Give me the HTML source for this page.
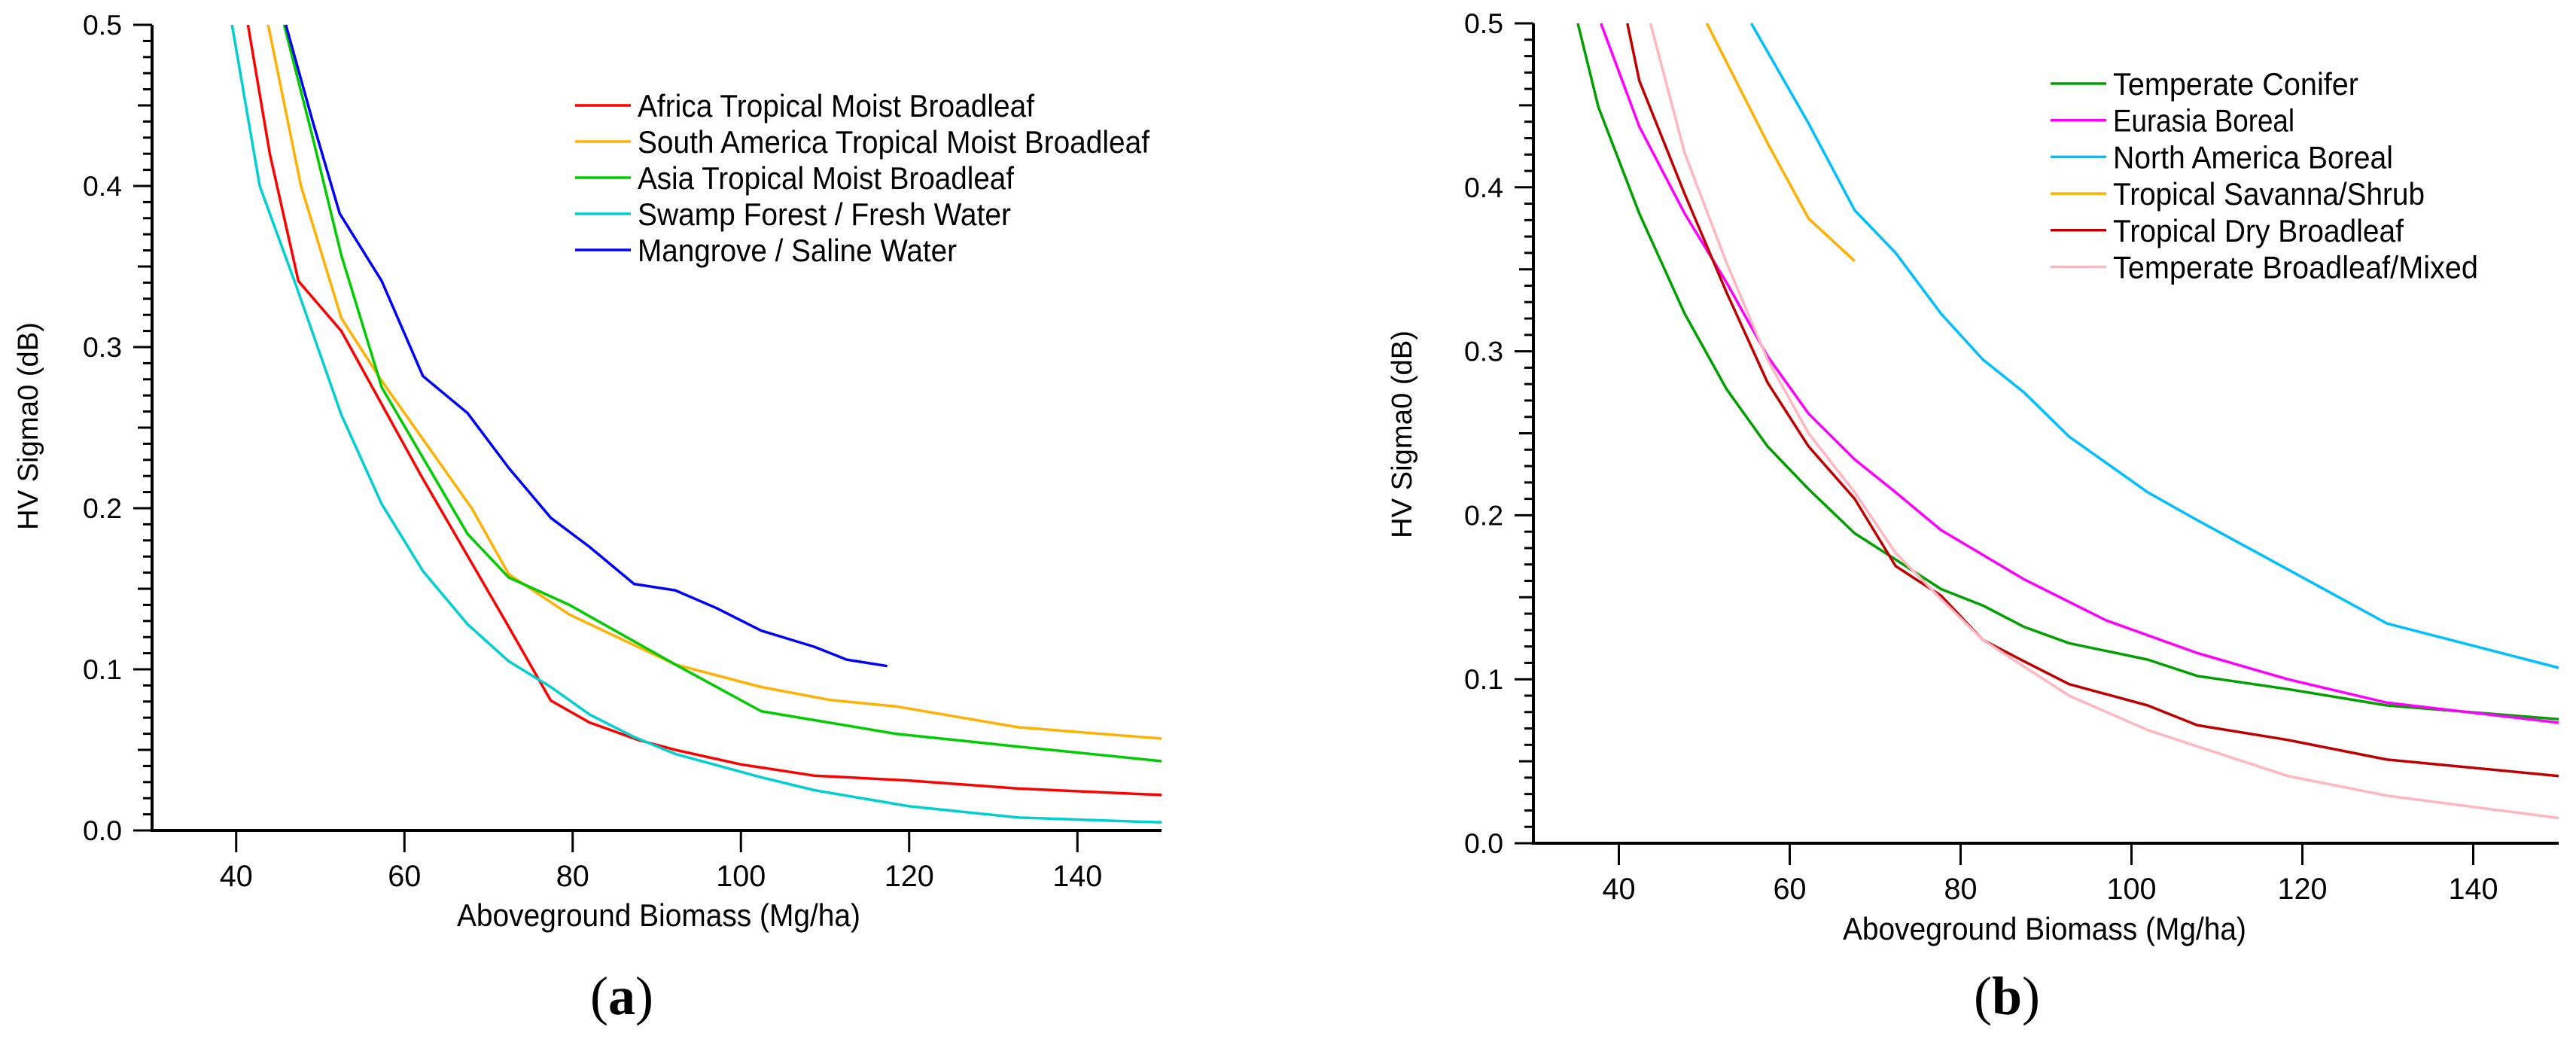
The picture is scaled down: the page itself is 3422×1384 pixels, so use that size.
<!DOCTYPE html>
<html><head><meta charset="utf-8"><style>
html,body{margin:0;padding:0;background:#fff;}
svg{display:block;font-family:"Liberation Sans",sans-serif;}
</style></head><body>
<svg id="fig" width="3422" height="1384" viewBox="0 0 3422 1384" xmlns="http://www.w3.org/2000/svg"></svg>
<script>
// Panel (a) data
const aNames = ["Africa Tropical Moist Broadleaf","South America Tropical Moist Broadleaf","Asia Tropical Moist Broadleaf","Swamp Forest / Fresh Water","Mangrove / Saline Water"];
const aColors = ["#ff0000","#ffb000","#00cc00","#00d0d0","#0000ff"];
const aAfricaX = [41.4,44,47.4,52.5,62,72,77.4,82,87.9,92.2,100,108.7,120,133,150];
const aAfricaY = [0.5,0.42,0.341,0.31,0.22,0.13,0.0806,0.067,0.056,0.05,0.041,0.034,0.031,0.026,0.022];
const aSouthX = [43.8,47.7,52.5,57.3,68,72.4,79.6,92.2,102.4,110.6,118.4,133,150];
const aSouthY = [0.5,0.4,0.318,0.279,0.2,0.159,0.134,0.103,0.089,0.081,0.077,0.064,0.057];
const aAsiaX = [45.7,49.1,52.5,57.3,67.5,72.4,79.6,92.2,102.4,118.4,133,150];
const aAsiaY = [0.5,0.43,0.357,0.275,0.184,0.157,0.14,0.103,0.074,0.06,0.052,0.043];
const aSwampX = [39.5,42.8,47.2,52.5,57.3,62.2,67.5,72.4,77.4,82,87.3,92.2,102.4,108.7,120,133,150];
const aSwampY = [0.5,0.4,0.337,0.258,0.2025,0.161,0.128,0.105,0.089,0.072,0.058,0.0475,0.033,0.025,0.015,0.008,0.005];
const aMangX = [45.9,49.1,52.3,57.3,62.2,67.5,72.4,77.4,82,87.3,92.2,97.1,102.4,108.7,112.6,117.4];
const aMangY = [0.5,0.44,0.383,0.341,0.282,0.259,0.225,0.194,0.176,0.153,0.149,0.138,0.124,0.114,0.106,0.102];
// Panel (b) data
const bNames = ["Temperate Conifer","Eurasia Boreal","North America Boreal","Tropical Savanna/Shrub","Tropical Dry Broadleaf","Temperate Broadleaf/Mixed"];
const bColors = ["#00a000","#ff00ff","#00bfff","#ffb000","#c00000","#ffb6c1"];
const bConX = [35.2,37.6,42.4,47.7,52.6,57.4,62.2,67.6,72.4,77.7,82.6,87.4,92.7,101.9,107.7,118.3,129.9,150];
const bConY = [0.5,0.449,0.384,0.323,0.277,0.242,0.216,0.189,0.173,0.155,0.145,0.132,0.122,0.112,0.102,0.094,0.084,0.0756];
const bEurX = [37.9,42.4,47.7,52.6,57.4,62.2,67.6,72.4,77.7,87.4,97,107.7,118.3,129.9,150];
const bEurY = [0.5,0.437,0.384,0.342,0.297,0.262,0.234,0.214,0.191,0.161,0.136,0.116,0.1,0.0857,0.0735];
const bNAX = [55.5,62.2,67.6,72.4,77.7,82.6,87.4,92.7,101.9,107.7,118.3,129.9,150];
const bNAY = [0.5,0.439,0.386,0.36,0.323,0.295,0.275,0.248,0.214,0.197,0.167,0.134,0.107];
const bSavX = [50.3,57.4,62.2,67.6];
const bSavY = [0.5,0.427,0.381,0.355];
const bDryX = [41,42.4,47.7,52.6,57.4,62.2,67.6,72.4,77.7,82.6,87.4,92.7,101.9,107.7,118.3,129.9,150];
const bDryY = [0.5,0.465,0.396,0.336,0.281,0.242,0.21,0.169,0.151,0.124,0.111,0.097,0.084,0.072,0.063,0.051,0.041];
const bPinkX = [43.7,47.7,52.6,57.4,62.2,67.6,72.4,77.7,82.6,92.7,101.9,118.3,129.9,150];
const bPinkY = [0.5,0.421,0.354,0.295,0.25,0.214,0.177,0.149,0.124,0.09,0.069,0.041,0.029,0.0154];
const xTicks = [40,60,80,100,120,140];
const yTicks = [0,0.1,0.2,0.3,0.4,0.5];
const yTickLabels = ["0.0","0.1","0.2","0.3","0.4","0.5"];
const aLegendWidths = [527,680,500,496,424];
const bLegendWidths = [326,241,372,414,386,485];

const NS = "http://www.w3.org/2000/svg";
const svg = document.getElementById("fig");
function mk(tag, attrs, parent){const e=document.createElementNS(NS,tag);for(const k in attrs)e.setAttribute(k,attrs[k]);(parent||svg).appendChild(e);return e;}

function panel(p){
  const g = mk("g",{});
  
  
  const sx = v => p.x0 + (v-30)/(150-30)*(p.x1-p.x0);
  const sy = v => p.y0 - v/0.5*(p.y0-p.y1);
  for(let i=0;i<=50;i++){
    const v=i/100, y=sy(v);
    const len = (i%10===0)?25:((i%5===0)?19:12);
    const t = mk("line",{x1:p.x0-len,x2:p.x0,y1:y,y2:y,stroke:"#000","stroke-width":3},g);
    
    
  }
  yTicks.forEach((v,i)=>{
    const t = mk("text",{x:p.x0-40,y:sy(v)+13,"font-size":37,"text-anchor":"end",fill:"#000",textLength:52,lengthAdjust:"spacingAndGlyphs"},g);
    t.textContent=yTickLabels[i];
    
    
  });
  xTicks.forEach(v=>{
    const x=sx(v);
    const t = mk("line",{x1:x,x2:x,y1:p.y0,y2:p.y0+29,stroke:"#000","stroke-width":3},g);
    
    
    const s=String(v);
    const l = mk("text",{x:x,y:p.y0+74,"font-size":40,"text-anchor":"middle",fill:"#000",textLength:s.length*22,lengthAdjust:"spacingAndGlyphs"},g);
    l.textContent=s;
    
    
  });
  const ax = mk("path",{d:`M${p.x0},${p.y1} L${p.x0},${p.y0} L${p.x1},${p.y0}`,fill:"none",stroke:"#000","stroke-width":4},g);
  
  
  p.series.forEach((s,i)=>{
    const d = s[0].map((xv,j)=>(j?"L":"M")+sx(xv).toFixed(1)+","+sy(s[1][j]).toFixed(1)).join(" ");
    const pa = mk("path",{d:d,fill:"none",stroke:p.colors[i],"stroke-width":3.5,"stroke-linejoin":"round"},g);
    
    
    const ly = p.legY + i*p.legDy;
    const ll = mk("line",{x1:p.legX,x2:p.legX+74,y1:ly,y2:ly,stroke:p.colors[i],"stroke-width":3.5},g);
    
    
    const lt = mk("text",{x:p.legX+83,y:ly+15,"font-size":42,fill:"#000",textLength:p.legW[i],lengthAdjust:"spacingAndGlyphs"},g);
    lt.textContent=p.names[i];
    
    
  });
  const xt = mk("text",{x:p.xtX,y:p.xtY,"font-size":42,"text-anchor":"middle",fill:"#000",textLength:536,lengthAdjust:"spacingAndGlyphs"},g);
  xt.textContent="Aboveground Biomass (Mg/ha)";
  
  
  const yt = mk("text",{x:0,y:0,"font-size":38,"text-anchor":"middle",fill:"#000",textLength:276,lengthAdjust:"spacingAndGlyphs",transform:`translate(${p.ytX},${p.ytY}) rotate(-90)`},g);
  yt.textContent="HV Sigma0 (dB)";
  
  
  const cap = mk("text",{x:p.capX,y:1347,"font-size":72,"text-anchor":"middle",fill:"#000","font-family":"Liberation Serif, serif"},g);
  cap.innerHTML = '(<tspan font-weight="bold">'+p.cap+'</tspan>)';
  
  
}

panel({id:"panel-a",x0:202,x1:1543,y0:1103,y1:33,
  series:[[aAfricaX,aAfricaY],[aSouthX,aSouthY],[aAsiaX,aAsiaY],[aSwampX,aSwampY],[aMangX,aMangY]],
  colors:aColors,names:aNames,legW:aLegendWidths,legX:764,legY:140,legDy:48,xtX:875,xtY:1230,ytX:50,ytY:566,capX:826,cap:"a"});
panel({id:"panel-b",x0:2037,x1:3399,y0:1120,y1:31,
  series:[[bConX,bConY],[bEurX,bEurY],[bNAX,bNAY],[bSavX,bSavY],[bDryX,bDryY],[bPinkX,bPinkY]],
  colors:bColors,names:bNames,legW:bLegendWidths,legX:2724,legY:111,legDy:48.7,xtX:2716,xtY:1248,ytX:1875,ytY:577,capX:2666,cap:"b"});
</script>
</body></html>
